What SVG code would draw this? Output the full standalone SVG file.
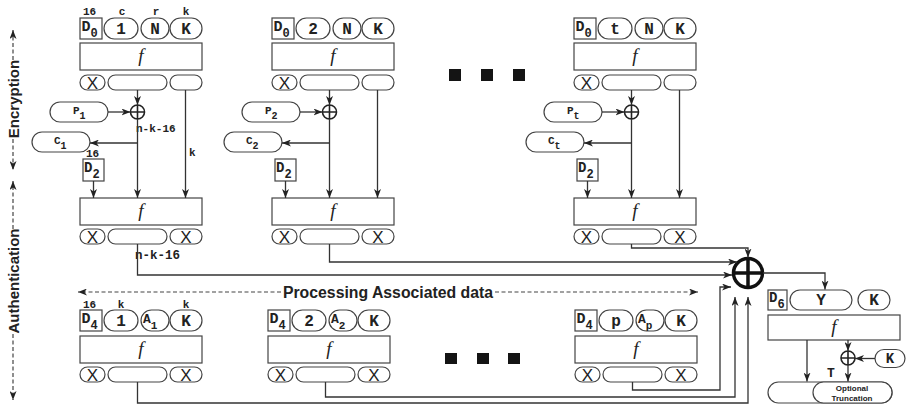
<svg xmlns="http://www.w3.org/2000/svg" width="907" height="406" viewBox="0 0 907 406">
  <style>
    .box { fill: #fff; stroke: #444; stroke-width: 1.2; }
    .ln { fill: none; stroke: #333; stroke-width: 1.3; }
    .dash { fill: none; stroke: #444; stroke-width: 1.2; stroke-dasharray: 4 2.5; }
    .mono { font-family: "Liberation Mono", "DejaVu Sans Mono", monospace; font-weight: bold; fill: #222; }
    .pt { font-size: 16px; text-anchor: middle; }
    .dl { font-size: 15px; }
    .sub { font-size: 12px; }
    .sm { font-size: 11px; }
    .fn { font-family: "Liberation Serif", serif; font-style: italic; font-size: 19px; fill: #222; text-anchor: middle; }
    .x { font-family: "Liberation Sans", sans-serif; font-size: 17px; fill: #222; text-anchor: middle; }
    .lab { font-family: "Liberation Sans", Arial, sans-serif; font-weight: bold; fill: #222; }
    .sq { fill: #141414; }
  </style>
  <defs>
    <marker id="arr" markerUnits="userSpaceOnUse" markerWidth="9" markerHeight="7" refX="9" refY="3.5" orient="auto">
      <path d="M0,0 L9,3.5 L0,7 L2.5,3.5 z" fill="#222"/>
    </marker>
    <!-- XOR symbol -->
    <g id="xor">
      <circle r="7" fill="#fff" stroke="#222" stroke-width="1.6"/>
      <path d="M-7,0 H7 M0,-7 V7" stroke="#222" stroke-width="1.6"/>
    </g>
    <!-- crossed (discarded) output cell -->
    <g id="xcell-s">
      <rect class="box" x="0" y="0" width="25" height="15" rx="7.5"/>
      <text class="x" x="12.5" y="13.6">X</text>
    </g>
    <g id="xcell-l">
      <rect class="box" x="0" y="0" width="32" height="15" rx="7.5"/>
      <text class="x" x="16" y="13.6">X</text>
    </g>
  </defs>

  <!-- side phase labels -->
  <g id="phase-labels">
    <path class="dash" d="M13,60 V30" marker-end="url(#arr)"/>
    <path class="dash" d="M13,139 V170" marker-end="url(#arr)"/>
    <text class="lab" font-size="15" text-anchor="middle" transform="translate(18.5,99) rotate(-90)">Encryption</text>
    <path class="dash" d="M13,229 V181" marker-end="url(#arr)"/>
    <path class="dash" d="M13,334 V400" marker-end="url(#arr)"/>
    <text class="lab" font-size="15" text-anchor="middle" transform="translate(18.5,281) rotate(-90)">Authentication</text>
  </g>

  <!-- encryption block 1 -->
  <g id="enc-1">
    <g id="enc-1-labels">
      <text class="mono sm" x="83" y="15">16</text>
      <text class="mono sm" x="122" y="15" text-anchor="middle">c</text>
      <text class="mono sm" x="156" y="15" text-anchor="middle">r</text>
      <text class="mono sm" x="186" y="15" text-anchor="middle">k</text>
      <text class="mono sm" x="136" y="132">n-k-16</text>
      <text class="mono sm" x="189" y="156">k</text>
      <text class="mono sm" x="86" y="157">16</text>
      <text class="mono" font-size="12.5" x="135" y="259">n-k-16</text>
    </g>
    <g id="enc-1-state">
      <rect class="box" x="80" y="18" width="22" height="21"/>
      <text class="mono dl" x="81.5" y="31">D<tspan class="sub" dy="6">0</tspan></text>
      <rect class="box" x="104" y="18" width="34" height="21" rx="10.5"/>
      <text class="mono pt" x="121" y="34">1</text>
      <rect class="box" x="141" y="18" width="28" height="21" rx="10.5"/>
      <text class="mono pt" x="155" y="34">N</text>
      <rect class="box" x="170" y="18" width="32" height="21" rx="10.5"/>
      <text class="mono pt" x="186" y="34">K</text>
    </g>
    <g id="enc-1-f1">
      <rect class="box" x="80" y="43" width="122" height="27"/>
      <text class="fn" x="141" y="62">f</text>
    </g>
    <g id="enc-1-out1">
      <use href="#xcell-s" x="80" y="75"/>
      <rect class="box" x="108" y="75" width="59" height="15" rx="7.5"/>
      <rect class="box" x="170" y="75" width="32" height="15" rx="7.5"/>
    </g>
    <g id="enc-1-p">
      <rect class="box" x="50" y="102" width="58" height="20" rx="10"/>
      <text class="mono sm" x="73" y="114">P<tspan font-size="10" dy="5">1</tspan></text>
    </g>
    <g id="enc-1-xor"><use href="#xor" x="137.5" y="112"/></g>
    <g id="enc-1-c">
      <rect class="box" x="32" y="132" width="58" height="20" rx="10"/>
      <text class="mono sm" x="54" y="144">C<tspan font-size="10" dy="5">1</tspan></text>
    </g>
    <g id="enc-1-d2">
      <rect class="box" x="83" y="159" width="21" height="22"/>
      <text class="mono" font-size="14" x="84" y="172">D<tspan class="sub" dy="6">2</tspan></text>
    </g>
    <g id="enc-1-f2">
      <rect class="box" x="80" y="198" width="122" height="27"/>
      <text class="fn" x="141" y="217">f</text>
    </g>
    <g id="enc-1-out2">
      <use href="#xcell-s" x="80" y="229"/>
      <rect class="box" x="108" y="229" width="59" height="15" rx="7.5"/>
      <use href="#xcell-l" x="170" y="229"/>
    </g>
  </g>

  <!-- encryption block 2 -->
  <g id="enc-2" transform="translate(192,0)">
    <g id="enc-2-state">
      <rect class="box" x="80" y="18" width="22" height="21"/>
      <text class="mono dl" x="81.5" y="31">D<tspan class="sub" dy="6">0</tspan></text>
      <rect class="box" x="104" y="18" width="34" height="21" rx="10.5"/>
      <text class="mono pt" x="121" y="34">2</text>
      <rect class="box" x="141" y="18" width="28" height="21" rx="10.5"/>
      <text class="mono pt" x="155" y="34">N</text>
      <rect class="box" x="170" y="18" width="32" height="21" rx="10.5"/>
      <text class="mono pt" x="186" y="34">K</text>
    </g>
    <g id="enc-2-f1">
      <rect class="box" x="80" y="43" width="122" height="27"/>
      <text class="fn" x="141" y="62">f</text>
    </g>
    <g id="enc-2-out1">
      <use href="#xcell-s" x="80" y="75"/>
      <rect class="box" x="108" y="75" width="59" height="15" rx="7.5"/>
      <rect class="box" x="170" y="75" width="32" height="15" rx="7.5"/>
    </g>
    <g id="enc-2-p">
      <rect class="box" x="50" y="102" width="58" height="20" rx="10"/>
      <text class="mono sm" x="73" y="114">P<tspan font-size="10" dy="5">2</tspan></text>
    </g>
    <g id="enc-2-xor"><use href="#xor" x="137.5" y="112"/></g>
    <g id="enc-2-c">
      <rect class="box" x="32" y="132" width="58" height="20" rx="10"/>
      <text class="mono sm" x="54" y="144">C<tspan font-size="10" dy="5">2</tspan></text>
    </g>
    <g id="enc-2-d2">
      <rect class="box" x="83" y="159" width="21" height="22"/>
      <text class="mono" font-size="14" x="84" y="172">D<tspan class="sub" dy="6">2</tspan></text>
    </g>
    <g id="enc-2-f2">
      <rect class="box" x="80" y="198" width="122" height="27"/>
      <text class="fn" x="141" y="217">f</text>
    </g>
    <g id="enc-2-out2">
      <use href="#xcell-s" x="80" y="229"/>
      <rect class="box" x="108" y="229" width="59" height="15" rx="7.5"/>
      <use href="#xcell-l" x="170" y="229"/>
    </g>
  </g>

  <!-- encryption block t -->
  <g id="enc-t" transform="translate(494,0)">
    <g id="enc-t-state">
      <rect class="box" x="80" y="18" width="22" height="21"/>
      <text class="mono dl" x="81.5" y="31">D<tspan class="sub" dy="6">0</tspan></text>
      <rect class="box" x="104" y="18" width="34" height="21" rx="10.5"/>
      <text class="mono pt" x="121" y="34">t</text>
      <rect class="box" x="141" y="18" width="28" height="21" rx="10.5"/>
      <text class="mono pt" x="155" y="34">N</text>
      <rect class="box" x="170" y="18" width="32" height="21" rx="10.5"/>
      <text class="mono pt" x="186" y="34">K</text>
    </g>
    <g id="enc-t-f1">
      <rect class="box" x="80" y="43" width="122" height="27"/>
      <text class="fn" x="141" y="62">f</text>
    </g>
    <g id="enc-t-out1">
      <use href="#xcell-s" x="80" y="75"/>
      <rect class="box" x="108" y="75" width="59" height="15" rx="7.5"/>
      <rect class="box" x="170" y="75" width="32" height="15" rx="7.5"/>
    </g>
    <g id="enc-t-p">
      <rect class="box" x="50" y="102" width="58" height="20" rx="10"/>
      <text class="mono sm" x="73" y="114">P<tspan font-size="10" dy="5">t</tspan></text>
    </g>
    <g id="enc-t-xor"><use href="#xor" x="137.5" y="112"/></g>
    <g id="enc-t-c">
      <rect class="box" x="32" y="132" width="58" height="20" rx="10"/>
      <text class="mono sm" x="54" y="144">C<tspan font-size="10" dy="5">t</tspan></text>
    </g>
    <g id="enc-t-d2">
      <rect class="box" x="83" y="159" width="21" height="22"/>
      <text class="mono" font-size="14" x="84" y="172">D<tspan class="sub" dy="6">2</tspan></text>
    </g>
    <g id="enc-t-f2">
      <rect class="box" x="80" y="198" width="122" height="27"/>
      <text class="fn" x="141" y="217">f</text>
    </g>
    <g id="enc-t-out2">
      <use href="#xcell-s" x="80" y="229"/>
      <rect class="box" x="108" y="229" width="59" height="15" rx="7.5"/>
      <use href="#xcell-l" x="170" y="229"/>
    </g>
  </g>

  <!-- ellipsis markers -->
  <g id="ellipsis-top">
    <rect class="sq" x="449" y="69" width="12" height="12"/>
    <rect class="sq" x="481" y="69" width="12" height="12"/>
    <rect class="sq" x="513" y="69" width="12" height="12"/>
  </g>
  <g id="ellipsis-bottom">
    <rect class="sq" x="445" y="353" width="12" height="11"/>
    <rect class="sq" x="477" y="353" width="12" height="11"/>
    <rect class="sq" x="508" y="353" width="12" height="11"/>
  </g>

  <!-- associated data span -->
  <g id="ad-label">
    <path class="dash" d="M281,292 H78" marker-end="url(#arr)"/>
    <path class="dash" d="M495,292 H698" marker-end="url(#arr)"/>
    <text class="lab" font-size="15.8" x="388" y="297.5" text-anchor="middle">Processing Associated data</text>
  </g>

  <!-- associated data block 1 -->
  <g id="ad-1">
    <g id="ad-1-labels">
      <text class="mono sm" x="83" y="308">16</text>
      <text class="mono sm" x="121" y="308" text-anchor="middle">k</text>
      <text class="mono sm" x="186" y="308" text-anchor="middle">k</text>
    </g>
    <g id="ad-1-state">
      <rect class="box" x="80" y="310" width="22" height="21"/>
      <text class="mono dl" x="81.5" y="323">D<tspan class="sub" dy="6">4</tspan></text>
      <rect class="box" x="104" y="310" width="34" height="21" rx="10.5"/>
      <text class="mono pt" x="121" y="326">1</text>
      <rect class="box" x="141" y="310" width="28" height="21" rx="10.5"/>
      <text class="mono" font-size="13" x="143" y="323">A<tspan font-size="11" dy="6">1</tspan></text>
      <rect class="box" x="170" y="310" width="32" height="21" rx="10.5"/>
      <text class="mono pt" x="186" y="326">K</text>
    </g>
    <g id="ad-1-f">
      <rect class="box" x="80" y="336" width="122" height="27"/>
      <text class="fn" x="141" y="355">f</text>
    </g>
    <g id="ad-1-out">
      <use href="#xcell-s" x="80" y="367"/>
      <rect class="box" x="108" y="367" width="59" height="15" rx="7.5"/>
      <use href="#xcell-l" x="170" y="367"/>
    </g>
  </g>

  <!-- associated data block 2 -->
  <g id="ad-2" transform="translate(188,0)">
    <g id="ad-2-state">
      <rect class="box" x="80" y="310" width="22" height="21"/>
      <text class="mono dl" x="81.5" y="323">D<tspan class="sub" dy="6">4</tspan></text>
      <rect class="box" x="104" y="310" width="34" height="21" rx="10.5"/>
      <text class="mono pt" x="121" y="326">2</text>
      <rect class="box" x="141" y="310" width="28" height="21" rx="10.5"/>
      <text class="mono" font-size="13" x="143" y="323">A<tspan font-size="11" dy="6">2</tspan></text>
      <rect class="box" x="170" y="310" width="32" height="21" rx="10.5"/>
      <text class="mono pt" x="186" y="326">K</text>
    </g>
    <g id="ad-2-f">
      <rect class="box" x="80" y="336" width="122" height="27"/>
      <text class="fn" x="141" y="355">f</text>
    </g>
    <g id="ad-2-out">
      <use href="#xcell-s" x="80" y="367"/>
      <rect class="box" x="108" y="367" width="59" height="15" rx="7.5"/>
      <use href="#xcell-l" x="170" y="367"/>
    </g>
  </g>

  <!-- associated data block p -->
  <g id="ad-p" transform="translate(495,0)">
    <g id="ad-p-state">
      <rect class="box" x="80" y="310" width="22" height="21"/>
      <text class="mono dl" x="81.5" y="323">D<tspan class="sub" dy="6">4</tspan></text>
      <rect class="box" x="104" y="310" width="34" height="21" rx="10.5"/>
      <text class="mono pt" x="121" y="326">p</text>
      <rect class="box" x="141" y="310" width="28" height="21" rx="10.5"/>
      <text class="mono" font-size="13" x="143" y="323">A<tspan font-size="11" dy="6">p</tspan></text>
      <rect class="box" x="170" y="310" width="32" height="21" rx="10.5"/>
      <text class="mono pt" x="186" y="326">K</text>
    </g>
    <g id="ad-p-f">
      <rect class="box" x="80" y="336" width="122" height="27"/>
      <text class="fn" x="141" y="355">f</text>
    </g>
    <g id="ad-p-out">
      <use href="#xcell-s" x="80" y="367"/>
      <rect class="box" x="108" y="367" width="59" height="15" rx="7.5"/>
      <use href="#xcell-l" x="170" y="367"/>
    </g>
  </g>

  <!-- accumulator XOR -->
  <g id="acc-xor">
    <circle cx="748" cy="273" r="14.5" fill="#fff" stroke="#111" stroke-width="3.5"/>
    <path d="M733.5,273 H762.5 M748,258.5 V287.5" stroke="#111" stroke-width="3.5"/>
  </g>

  <!-- tag generation block -->
  <g id="tag">
    <g id="tag-state">
      <rect class="box" x="768" y="290" width="19" height="20"/>
      <text class="mono" font-size="14" x="769" y="302">D<tspan class="sub" dy="6">6</tspan></text>
      <rect class="box" x="790" y="290" width="62" height="20" rx="10"/>
      <text class="mono pt" x="821" y="305">Y</text>
      <rect class="box" x="858" y="290" width="32" height="20" rx="10"/>
      <text class="mono pt" x="874" y="305">K</text>
    </g>
    <g id="tag-f">
      <rect class="box" x="768" y="315" width="132" height="25"/>
      <text class="fn" x="834" y="333">f</text>
    </g>
    <g id="tag-xor"><use href="#xor" x="848" y="358"/></g>
    <g id="tag-key">
      <rect class="box" x="875" y="349.5" width="30" height="18" rx="9"/>
      <text class="mono" font-size="14" x="890" y="363" text-anchor="middle">K</text>
    </g>
    <text class="mono" font-size="13" x="831" y="377" text-anchor="middle">T</text>
    <g id="tag-out">
      <rect class="box" x="768" y="382" width="124" height="21" rx="10.5"/>
      <rect class="box" x="813" y="382" width="79" height="21" rx="10.5"/>
      <text class="lab" font-size="8" x="852" y="391" text-anchor="middle">Optional</text>
      <text class="lab" font-size="8" x="852" y="400.5" text-anchor="middle">Truncation</text>
    </g>
  </g>

  <!-- connectors -->
  <g id="connectors">
    <!-- block 1 -->
    <path class="ln" d="M137.5,90 V105" marker-end="url(#arr)"/>
    <path class="ln" d="M108,112 H130.5" marker-end="url(#arr)"/>
    <path class="ln" d="M137.5,119 V198" marker-end="url(#arr)"/>
    <path class="ln" d="M137.5,143 H90" marker-end="url(#arr)"/>
    <path class="ln" d="M185.5,90 V198" marker-end="url(#arr)"/>
    <path class="ln" d="M93.5,181 V198" marker-end="url(#arr)"/>
    <path class="ln" d="M137.5,244 V275 H732" marker-end="url(#arr)"/>
    <!-- block 2 -->
    <path class="ln" d="M329.5,90 V105" marker-end="url(#arr)"/>
    <path class="ln" d="M300,112 H322.5" marker-end="url(#arr)"/>
    <path class="ln" d="M329.5,119 V198" marker-end="url(#arr)"/>
    <path class="ln" d="M329.5,143 H282" marker-end="url(#arr)"/>
    <path class="ln" d="M377.5,90 V198" marker-end="url(#arr)"/>
    <path class="ln" d="M285.5,181 V198" marker-end="url(#arr)"/>
    <path class="ln" d="M329.5,244 V262 H737" marker-end="url(#arr)"/>
    <!-- block t -->
    <path class="ln" d="M631.5,90 V105" marker-end="url(#arr)"/>
    <path class="ln" d="M602,112 H624.5" marker-end="url(#arr)"/>
    <path class="ln" d="M631.5,119 V198" marker-end="url(#arr)"/>
    <path class="ln" d="M631.5,143 H584" marker-end="url(#arr)"/>
    <path class="ln" d="M679.5,90 V198" marker-end="url(#arr)"/>
    <path class="ln" d="M587.5,181 V198" marker-end="url(#arr)"/>
    <path class="ln" d="M631.5,244 V248 H748 V257.5" marker-end="url(#arr)"/>
    <!-- associated data blocks -->
    <path class="ln" d="M137.5,382 V403 H748 V297" marker-end="url(#arr)"/>
    <path class="ln" d="M325.5,382 V397 H735 V297" marker-end="url(#arr)"/>
    <path class="ln" d="M632.5,382 V390 H720 V287 H731" marker-end="url(#arr)"/>
    <!-- tag generation -->
    <path class="ln" d="M763,273 H825 V289.5" marker-end="url(#arr)"/>
    <path class="ln" d="M807,340 V381.5" marker-end="url(#arr)"/>
    <path class="ln" d="M848,340 V351" marker-end="url(#arr)"/>
    <path class="ln" d="M875,358.5 H855" marker-end="url(#arr)"/>
    <path class="ln" d="M848,365 V381.5" marker-end="url(#arr)"/>
  </g>
</svg>
